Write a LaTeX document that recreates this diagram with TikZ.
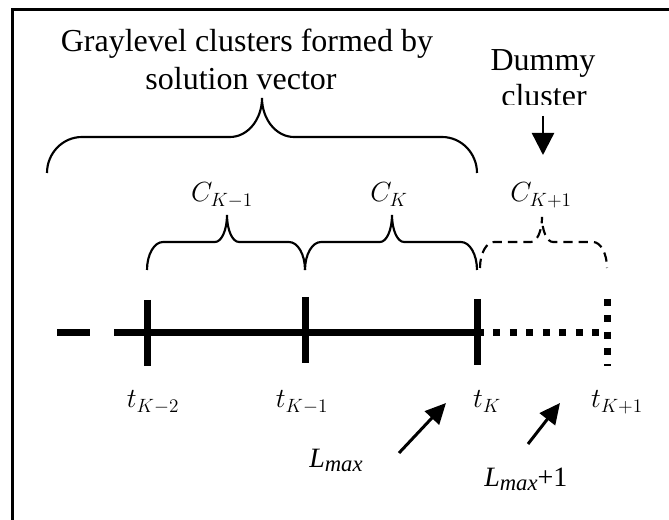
\documentclass[tikz,border=0pt]{standalone}
\usepackage{fontspec}
\setmainfont{Liberation Serif}
\usetikzlibrary{arrows.meta}
\tikzset{
  title/.style={font=\fontsize{24}{28}\selectfont, inner sep=0pt, anchor=base},
  mlab/.style={font=\fontsize{21}{24}\selectfont, inner sep=0pt, anchor=base},
  llab/.style={font=\fontsize{21}{24}\selectfont, inner sep=0pt, anchor=base west},
  bracepath/.style={line width=1.6pt, line cap=butt},
  axisline/.style={line width=5.25pt, line cap=butt},
  dotline/.style={line width=5.25pt, line cap=butt, dash pattern=on 5.25pt off 7.1pt},
  bigarrow/.style={line width=2.25pt, -{Triangle[length=15.5pt,width=14.5pt]}},
  downarrow/.style={line width=1.8pt, -{Triangle[length=16.5pt,width=16.5pt]}},
  frameline/.style={line width=2.25pt}
}
% #1 opts, #2 x1, #3 x2, #4 xt, #5 yh, #6 ye, #7 yt, #8 rx, #9 rtx
\newcommand{\mybrace}[9][]{%
  \draw[bracepath,#1] (#2,#6) .. controls (#2,{#6-0.552*(#6-#5)}) and ({#2+0.448*#8},#5) .. ({#2+#8},#5)
    -- ({#4-#9},#5) .. controls ({#4-0.448*#9},#5) and (#4,{#7+0.552*(#5-#7)}) .. (#4,#7)
    .. controls (#4,{#7+0.552*(#5-#7)}) and ({#4+0.448*#9},#5) .. ({#4+#9},#5)
    -- ({#3-#8},#5) .. controls ({#3-0.448*#8},#5) and (#3,{#6-0.552*(#6-#5)}) .. (#3,#6);}
\begin{document}
\begin{tikzpicture}[x=0.75pt,y=-0.75pt]
\useasboundingbox (0,0) rectangle (669,520);
% frame
\draw[frameline] (12,521) -- (12,9.5) -- (670,9.5);
% texts
\node[title] (t1) at (247,52) {Graylevel clusters formed by};
\node[title] (t2) at (241,90) {solution vector};
\node[title] (d1) at (543,71) {Dummy};
\begin{scope}
  \clip (480,76) rectangle (620,105);
  \node[title] (d2) at (544,107) {cluster};
\end{scope}
% braces
\mybrace{47}{477}{262}{137}{173}{98}{35}{32}
\mybrace{147}{305}{227}{242}{270}{215}{16}{12}
\mybrace{305}{477}{392}{242}{270}{215}{16}{12}
\mybrace[dash pattern=on 7pt off 4.5pt]{480}{607}{542}{242}{268}{217}{14}{11}
% cluster labels
\node[mlab] (ck1) at (222,202) {$C_{K-1}$};
\node[mlab] (ck) at (389,202) {$C_{K}$};
\node[mlab] (ck2) at (541,202) {$C_{K+1}$};
% dummy arrow
\coordinate (das) at (543,116);
\coordinate (dae) at (543,155);
\draw[downarrow] (das) -- (dae);
% axis
\draw[axisline] (57,333) -- (90,333);
\draw[axisline] (114,333) -- (477,333);
\draw[dotline] (477,333) -- (607,333);
\draw[axisline] (147,300) -- (147,366);
\draw[axisline] (305,297) -- (305,363);
\draw[axisline] (477,299) -- (477,365);
\draw[line width=5.25pt, line cap=butt, dash pattern=on 5.25pt off 7pt] (607,299) -- (607,366);
% tick labels
\node[mlab] (tk2) at (153,408) {$t_{K-2}$};
\node[mlab] (tk1) at (302,408) {$t_{K-1}$};
\node[mlab] (tk) at (487,408) {$t_{K}$};
\node[mlab] (tkp) at (617,408) {$t_{K+1}$};
% Lmax labels and arrows
\node[llab] (lm) at (309,468) {\textit{L}\raisebox{-0.25ex}{\fontsize{17}{17}\selectfont\textit{max}}};
\node[llab] (lmp) at (484,487) {\textit{L}\raisebox{-0.25ex}{\fontsize{17}{17}\selectfont\textit{max}}+1};
\coordinate (a1s) at (399,453);
\coordinate (a1e) at (446,403);
\coordinate (a2s) at (528,444);
\coordinate (a2e) at (560,403);
\draw[bigarrow] (a1s) -- (a1e);
\draw[bigarrow] (a2s) -- (a2e);
\end{tikzpicture}
\end{document}
